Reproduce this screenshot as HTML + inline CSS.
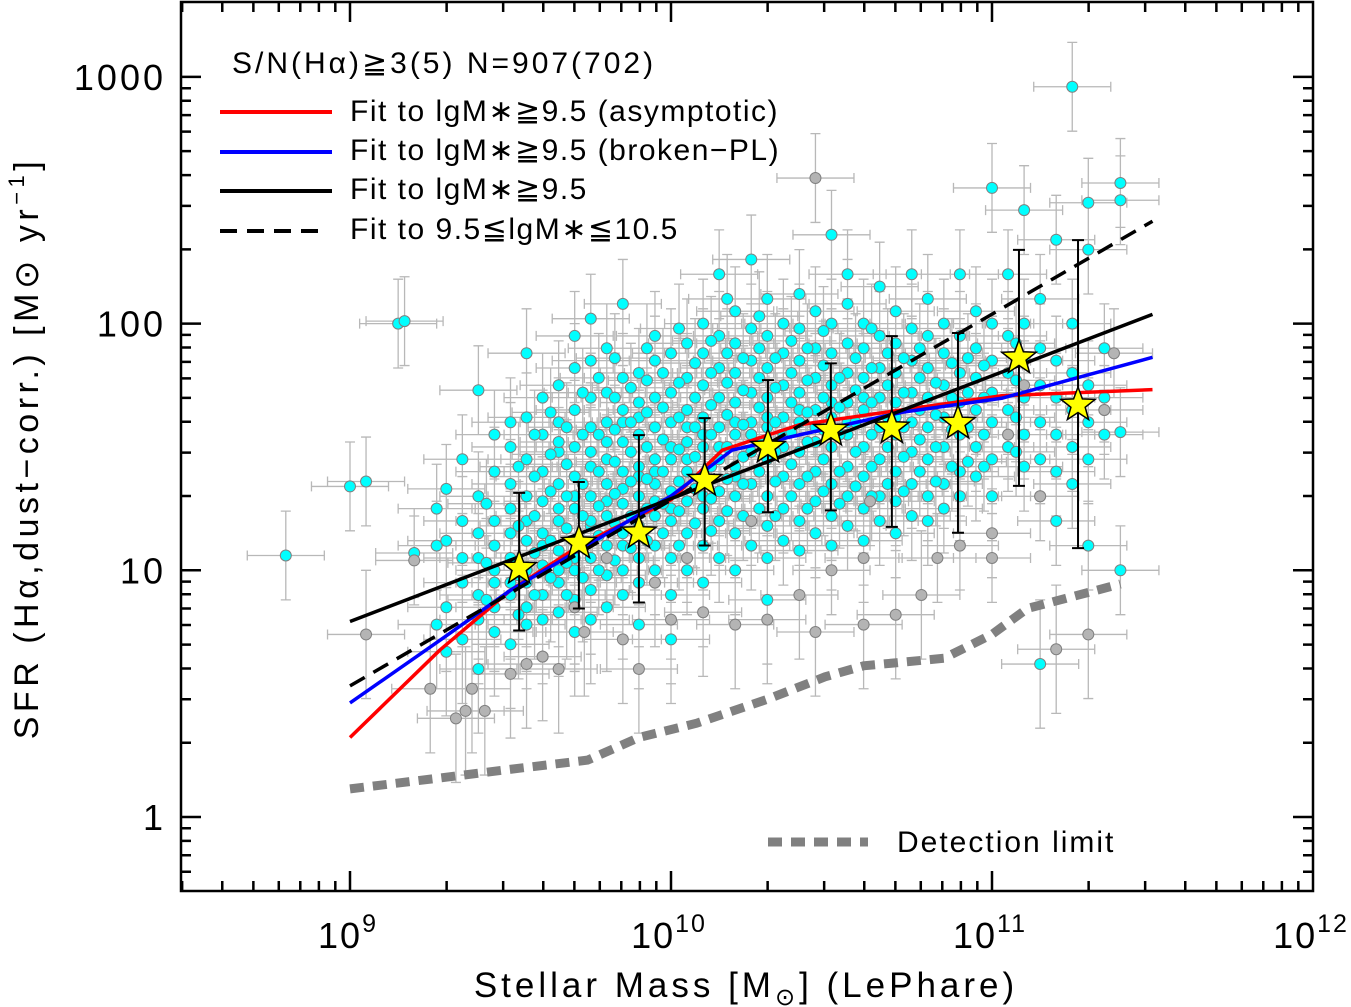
<!DOCTYPE html>
<html><head><meta charset="utf-8"><style>
body{margin:0;background:#fff}
svg{display:block;font-family:"Liberation Sans","DejaVu Sans",sans-serif}
</style></head><body>
<svg id="chart" width="1351" height="1007" viewBox="0 0 1351 1007" xmlns="http://www.w3.org/2000/svg">
<g id="errs"></g>
<g id="pts"></g>
<g id="lines"></g>
<g id="stars"></g>
<g id="axes"></g>
</svg>
<script>
const cyanBins = [
[9.0,[1.34]],[9.05,[1.36]],[9.15,[2.0]],[9.2,[1.07]],[9.27,[0.78,1.25,1.1]],[9.3,[0.67,0.85,1.12,1.33]],
[9.35,[1.2,0.95,1.45,0.72,1.05]],[9.4,[0.9,1.05,1.3,1.73,0.8,0.6,1.15]],[9.45,[1.0,1.1,1.2,0.85,1.4,1.55,0.75,0.95]],
[9.5,[0.9,1.05,1.25,1.35,0.7,0.95,1.15,1.5,1.6]],[9.55,[0.85,1.0,1.12,1.3,1.45,0.78,1.62,1.2,0.95,1.88]],
[9.6,[0.9,1.02,1.15,1.28,1.4,1.55,0.8,1.7,1.1,0.65]],[9.65,[0.95,1.08,1.2,1.35,1.48,1.6,0.83,1.75,1.25,1.0,1.52]],
[9.7,[1.0,1.12,1.25,1.38,1.5,1.65,0.88,1.82,1.3,1.05,0.75,1.95]],[9.75,[0.92,1.05,1.18,1.3,1.42,1.58,1.7,1.85,1.2,0.8,1.48,2.02]],
[9.8,[0.98,1.1,1.22,1.35,1.45,1.6,1.72,1.9,1.28,0.85,1.52]],[9.85,[1.0,1.15,1.27,1.4,1.52,1.65,1.78,0.9,1.33,1.6,2.08,1.1]],
[9.9,[1.05,1.18,1.3,1.42,1.55,1.68,1.8,0.95,1.38,1.62,0.78]],[9.95,[1.1,1.22,1.35,1.45,1.58,1.7,1.85,1.0,1.4,1.28,1.95]],
[10.0,[1.05,1.2,1.32,1.45,1.6,1.72,1.88,0.9,1.5,1.25,0.72]],[10.05,[1.15,1.28,1.4,1.52,1.65,1.78,1.92,1.0,1.45,1.58]],
[10.1,[1.1,1.25,1.38,1.5,1.62,1.75,1.88,2.0,0.95,1.55,1.3]],[10.15,[1.2,1.32,1.45,1.58,1.7,1.82,1.95,1.05,1.5,2.2]],
[10.2,[1.15,1.3,1.42,1.55,1.68,1.8,1.92,2.05,1.0,1.6,1.38]],[10.25,[1.2,1.35,1.48,1.6,1.72,1.85,1.98,1.1,1.55,2.26]],
[10.3,[1.18,1.3,1.45,1.58,1.7,1.82,1.95,2.1,1.05,1.62,0.88]],[10.35,[1.25,1.38,1.5,1.62,1.75,1.88,2.0,1.12,1.55]],
[10.4,[1.2,1.35,1.48,1.6,1.72,1.85,1.98,2.12,1.08,1.65]],[10.45,[1.28,1.4,1.52,1.65,1.78,1.9,2.05,1.15,1.58]],
[10.5,[1.22,1.35,1.5,1.62,1.75,1.88,2.0,1.1,1.68,2.36]],[10.55,[1.3,1.42,1.55,1.68,1.8,1.92,2.08,1.18,1.6,2.2]],
[10.6,[1.25,1.38,1.5,1.65,1.78,1.9,2.0,1.12,1.7]],[10.65,[1.3,1.45,1.58,1.7,1.82,1.95,2.15,1.2]],
[10.7,[1.28,1.4,1.55,1.68,1.8,1.92,2.05,1.15,1.62]],[10.75,[1.35,1.48,1.6,1.72,1.85,1.98,2.2,1.22]],
[10.8,[1.3,1.45,1.58,1.7,1.82,1.95,1.2,2.1]],[10.85,[1.35,1.5,1.62,1.75,1.88,2.0,1.25]],
[10.9,[1.4,1.55,1.68,1.8,1.95,2.2,1.3]],[10.95,[1.38,1.5,1.65,1.78,1.9,2.05]],
[11.0,[1.45,1.6,1.72,1.85,2.0,2.55,1.3]],[11.05,[1.5,1.65,1.8,1.95,2.2]],[11.1,[1.55,1.7,1.85,2.0,2.46,1.42]],
[11.15,[1.3,1.45,1.6,1.75,1.9,2.1,0.62]],[11.2,[1.4,1.55,1.7,1.85,2.34,1.2]],[11.25,[1.5,1.65,1.8,2.0,1.35,2.96]],
[11.3,[1.45,1.6,1.75,1.1,2.49,2.3]],[11.35,[1.55,1.7,1.9,1.65]],[11.4,[2.57,2.5,1.0,1.56]],[8.8,[1.06]],[9.17,[2.01]],
[9.425,[1.03,1.27,0.88]],[9.525,[0.98,1.18,1.42,0.82]],[9.575,[1.07,1.22,1.38,0.9,1.55]],[9.625,[0.97,1.12,1.32,1.47,1.64]],
[9.675,[1.03,1.17,1.3,1.43,1.58,0.9]],[9.725,[0.97,1.1,1.22,1.35,1.55,1.72]],[9.775,[1.0,1.14,1.26,1.4,1.55,1.78]],
[9.825,[1.04,1.19,1.31,1.44,1.57,1.7,1.86]],[9.875,[1.09,1.22,1.36,1.48,1.6,1.74]],[9.925,[1.12,1.25,1.37,1.5,1.64,1.77,1.9]],
[9.975,[1.15,1.27,1.4,1.53,1.66,1.8]],[10.025,[1.1,1.24,1.36,1.49,1.62,1.76,1.98]],[10.075,[1.19,1.33,1.46,1.58,1.7,1.84]],
[10.125,[1.16,1.29,1.42,1.55,1.67,1.8,1.93]],[10.175,[1.24,1.37,1.5,1.63,1.76,1.88,2.1]],[10.225,[1.22,1.35,1.46,1.59,1.73,1.86]],
[10.275,[1.25,1.4,1.52,1.66,1.78,1.9,2.03]],[10.325,[1.22,1.36,1.48,1.6,1.74,1.86]],[10.375,[1.3,1.43,1.56,1.68,1.8,1.93]],
[10.425,[1.25,1.38,1.52,1.64,1.77,1.9]],[10.475,[1.32,1.45,1.57,1.7,1.83,1.97]],[10.525,[1.27,1.4,1.55,1.66,1.78]],
[10.575,[1.34,1.48,1.6,1.73,1.86]],[10.625,[1.3,1.42,1.55,1.68,1.82,1.98]],[10.675,[1.35,1.5,1.62,1.75,1.88]],
[10.725,[1.32,1.46,1.58,1.72,1.86]],[10.775,[1.4,1.53,1.65,1.78,1.9]],[10.825,[1.36,1.5,1.63,1.76]],
[10.875,[1.42,1.57,1.7,1.84]],[10.925,[1.44,1.58,1.72,1.86]],[10.975,[1.42,1.55,1.7,1.83]],[11.075,[1.48,1.62,1.77,1.92]]
];
const greyPts = [[9.05,0.74],[9.42,0.43],[9.38,0.52],[9.5,0.58],[9.55,0.62],[9.65,0.6],[9.6,0.65],[9.73,0.75],[9.85,0.72],[9.9,0.6],[10.0,0.8],[10.1,0.83],[10.2,0.78],[10.3,0.8],[10.45,0.75],[10.6,0.78],[10.7,0.82],[10.78,0.9],[10.83,1.05],[10.9,1.1],[11.0,1.05],[11.0,1.15],[11.2,0.68],[11.3,0.74],[11.15,1.3],[10.62,1.28],[10.5,1.0],[10.45,2.59],[11.38,1.88],[11.35,1.65],[9.33,0.4],[9.36,0.43],[9.25,0.52],[10.25,1.2],[10.05,1.05],[9.8,1.05],[9.7,0.85],[9.95,0.95],[10.4,0.9],[10.6,1.05],[11.05,1.55],[11.1,1.75],[9.2,1.04]];
const starMass = [9.527,9.713,9.9,10.105,10.302,10.498,10.688,10.894,11.084,11.268];
const starSFR = [10.2,12.9,14.2,23.2,31.6,37,37.8,39.5,72.6,46.8];
const starHi = [20.6,22.8,35.3,41.4,59,69,89,91.6,199,218];
const starLo = [5.7,7.0,7.4,12.6,17.2,17.5,15,14.2,22,12.3];
const redM = [9,9.28,9.5,9.72,10,10.16,10.4,10.72,11.03,11.5];
const redS = [2.1,4.75,8.3,12.7,19.3,30.7,38.9,44.7,51,54];
const blueM = [9,9.28,9.5,10,10.19,10.4,10.72,11.03,11.5];
const blueS = [2.9,5.2,8.3,20,30.7,35.4,43.7,49.8,73];
const blackM = [9,11.5];
const blackS = [6.2,109];
const dashM = [9,11.5];
const dashS = [3.4,260];
const detM = [9,9.3,9.48,9.74,9.9,10.08,10.3,10.48,10.6,10.85,11.0,11.11,11.4];
const detS = [1.3,1.45,1.55,1.7,2.1,2.4,3.0,3.7,4.1,4.4,5.5,7,8.8];
const xTicks = [9,10,11,12];
const yTicks = [1,10,100,1000];

const NS='http://www.w3.org/2000/svg';
const X0=181,X1=1313,Y0=2,Y1=891;
const xs = lm => 350 + (lm-9)*321;
const ys = s => 817 - Math.log10(s)*246.7;
function mk(tag,attrs,parent){const e=document.createElementNS(NS,tag);for(const k in attrs)e.setAttribute(k,attrs[k]);parent.appendChild(e);return e;}
const errs=document.getElementById('errs'),pts=document.getElementById('pts');
const all=[];
cyanBins.forEach(b=>b[1].forEach(v=>all.push([b[0],v,'c'])));
greyPts.forEach(p=>all.push([p[0],p[1],'g']));
let ep='';
all.forEach(p=>{const x=xs(p[0]),y=ys(Math.pow(10,p[1]));const dx=0.12*321,dy=(p[1]<1?0.26:0.18)*246.7;
ep+=`M${x-dx} ${y}H${x+dx}M${x-dx} ${y-5}V${y+5}M${x+dx} ${y-5}V${y+5}M${x} ${y-dy}V${y+dy}M${x-5} ${y-dy}H${x+5}M${x-5} ${y+dy}H${x+5}`;});
const epE=mk('path',{d:ep,stroke:'#b8b8b8','stroke-width':1.3,fill:'none'},errs);


all.sort((a,b)=>(a[2]==='g')-(b[2]==='g'));
all.forEach(p=>{const c=mk('circle',{cx:xs(p[0]),cy:ys(Math.pow(10,p[1])),r:5.5,fill:p[2]==='c'?'#00ffff':'#b4b4b4',stroke:'#808080','stroke-width':1},pts);

});
const lines=document.getElementById('lines');
function poly(M,S,attrs,name){const d=M.map((m,i)=>(i?'L':'M')+xs(m)+' '+ys(S[i])).join('');const e=mk('path',Object.assign({d:d,fill:'none'},attrs),lines);

}
poly(detM,detS,{stroke:'#808080','stroke-width':9,'stroke-dasharray':'14 9'},'detection-limit-line');
poly(redM,redS,{stroke:'#ff0000','stroke-width':3.5,'stroke-linejoin':'round'},'fit-asymptotic');
poly(blueM,blueS,{stroke:'#0000ff','stroke-width':3.5,'stroke-linejoin':'round'},'fit-broken-pl');
poly(dashM,dashS,{stroke:'#000','stroke-width':3.5,'stroke-dasharray':'17 10'},'fit-9.5-10.5-dashed');
poly(blackM,blackS,{stroke:'#000','stroke-width':3.5},'fit-power-law');
const stars=document.getElementById('stars');
starMass.forEach((m,i)=>{const x=xs(m),y=ys(starSFR[i]),yh=ys(starHi[i]),yl=ys(starLo[i]);
const e=mk('path',{d:`M${x} ${yh}V${yl}M${x-6} ${yh}H${x+6}M${x-6} ${yl}H${x+6}`,stroke:'#000','stroke-width':2,fill:'none'},stars);


let pp='';for(let k=0;k<10;k++){const r=k%2?7.5:18,a=-Math.PI/2+k*Math.PI/5;pp+=(x+r*Math.cos(a)).toFixed(1)+','+(y+r*Math.sin(a)).toFixed(1)+' ';}
const s=mk('polygon',{points:pp,fill:'#ffff00',stroke:'#000','stroke-width':1.5},stars);

});
const ax=document.getElementById('axes');
mk('rect',{x:X0,y:Y0,width:X1-X0,height:Y1-Y0,fill:'none',stroke:'#000','stroke-width':2.5},ax);
let t='';
for(let d=8;d<12;d++)for(let k=1;k<10;k++){const lm=d+Math.log10(k);const x=xs(lm);if(x<X0+1||x>X1-1)continue;const L=k===1?20:10;t+=`M${x} ${Y1}V${Y1-L}M${x} ${Y0}V${Y0+L}`;}
for(let d=-1;d<4;d++)for(let k=1;k<10;k++){const y=ys(k*Math.pow(10,d));if(y<Y0+1||y>Y1-1)continue;const L=k===1?20:10;t+=`M${X0} ${y}H${X0+L}M${X1} ${y}H${X1-L}`;}
mk('path',{d:t,stroke:'#000','stroke-width':2.5,fill:'none'},ax);
xTicks.forEach(e=>{const tx=mk('text',{x:xs(e)-2,y:948,'font-size':36,'text-anchor':'middle','letter-spacing':2},ax);tx.innerHTML=`10<tspan dy="-16" font-size="25">${e}</tspan>`;

});
yTicks.forEach(v=>{const tx=mk('text',{x:166,y:ys(v)+13,'font-size':36,'text-anchor':'end','letter-spacing':3},ax);tx.textContent=v;

});
</script>
<svg style="position:absolute;left:0;top:0" width="1351" height="1007">
<text x="746" y="997" font-size="35" text-anchor="middle" font-family="Liberation Sans, sans-serif" letter-spacing="4">Stellar Mass [M<tspan font-size="24" dy="8">⊙</tspan><tspan dy="-8">] (LePhare)</tspan></text>
<text transform="translate(38,448) rotate(-90)" font-size="34" text-anchor="middle" font-family="Liberation Sans, sans-serif" letter-spacing="4.5">SFR (Hα,dust−corr.) [M⊙ yr<tspan dy="-14" font-size="22">−1</tspan><tspan dy="14">]</tspan></text>
<g font-family="Liberation Sans, DejaVu Sans, sans-serif" font-size="30">
<text x="232" y="73" letter-spacing="3">S/N(Hα)≧3(5)  N=907(702)</text>
<line x1="220" y1="112" x2="332" y2="112" stroke="#ff0000" stroke-width="4"/>
<text x="350" y="121" letter-spacing="1.5">Fit to lgM∗≧9.5 (asymptotic)</text>
<line x1="220" y1="152" x2="332" y2="152" stroke="#0000ff" stroke-width="4"/>
<text x="350" y="160" letter-spacing="1.5">Fit to lgM∗≧9.5 (broken−PL)</text>
<line x1="220" y1="191" x2="332" y2="191" stroke="#000" stroke-width="4"/>
<text x="350" y="199" letter-spacing="1.5">Fit to lgM∗≧9.5</text>
<line x1="220" y1="231" x2="322" y2="231" stroke="#000" stroke-width="4" stroke-dasharray="17 10"/>
<text x="350" y="239" letter-spacing="1.5">Fit to 9.5≦lgM∗≦10.5</text>
<line x1="768" y1="842" x2="868" y2="842" stroke="#808080" stroke-width="9" stroke-dasharray="14 9"/>
<text x="897" y="852" letter-spacing="2">Detection limit</text>
</g>
</svg>
</body></html>
